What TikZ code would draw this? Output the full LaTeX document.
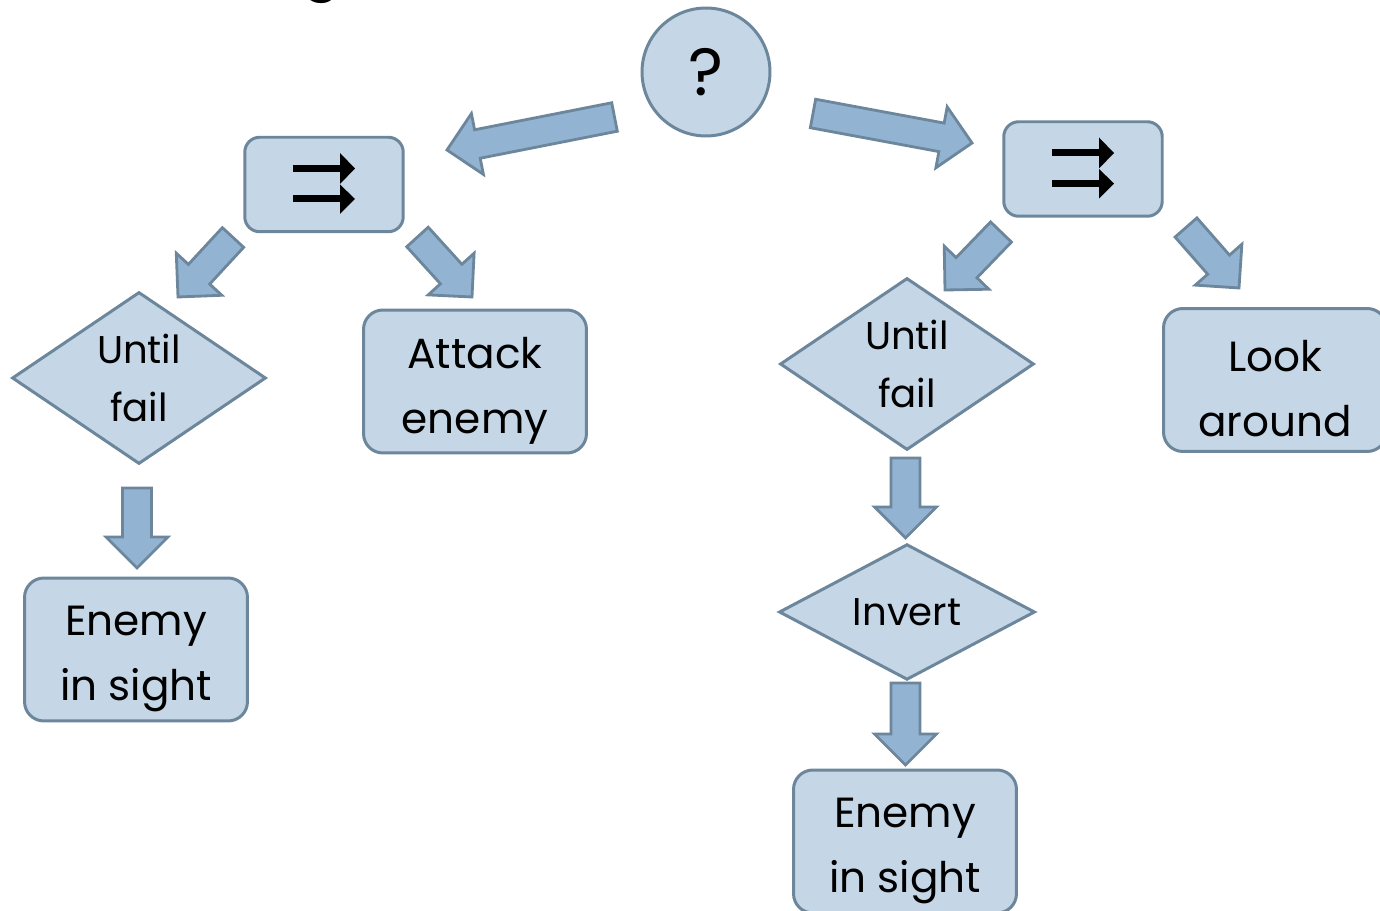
\documentclass[tikz,border=0pt]{standalone}
\usepackage{fontspec}
\setmainfont{Poppins}
\usetikzlibrary{shapes.geometric,calc}

\definecolor{nodefill}{HTML}{C5D6E6}
\definecolor{arrowfill}{HTML}{93B3D2}
\definecolor{edgeline}{HTML}{6C869C}

\tikzset{
  base/.style={draw=edgeline, fill=nodefill, line width=1.7pt},
  leafbox/.style={base, rounded corners=11pt, align=center, inner sep=0pt,
    minimum width=4.46cm, minimum height=2.86cm,
    font=\fontsize{24}{37}\selectfont},
  seqbox/.style={base, rounded corners=8.5pt, inner sep=0pt,
    minimum width=3.17cm, minimum height=1.89cm},
  selector/.style={base, circle, inner sep=0pt, minimum size=2.56cm,
    font=\fontsize{38}{38}\selectfont},
  decorator/.style={base, diamond, align=center, inner sep=0pt,
    font=\fontsize{22}{33}\selectfont},
  blockarrow/.style={draw=edgeline, fill=arrowfill, line width=1.6pt, line join=miter},
}

% two lines of leaf text, with a taller first line so the pair sits a little low
\newcommand\twolines[2]{\rule{0pt}{28pt}#1\\#2}

% block arrow from a tail point to a tip point
\newcommand\blockarr[2]{%
  \coordinate (ahead) at ($(#2)!0.62cm!(#1)$);
  \draw[blockarrow]
    ($(#1)!0.29cm!90:(#2)$) -- ($(ahead)!0.29cm!90:(#2)$) --
    ($(ahead)!0.62cm!90:(#2)$) -- (#2) --
    ($(ahead)!0.62cm!-90:(#2)$) -- ($(ahead)!0.29cm!-90:(#2)$) --
    ($(#1)!0.29cm!-90:(#2)$) -- cycle;}

% the double arrow glyph of a sequence node
\newcommand\seqglyph[1]{%
  \fill ([shift={(-31,-19.5)}]#1.center) rectangle ([shift={(17,-12.5)}]#1.center);
  \fill ([shift={(16,-31.5)}]#1.center) -- ([shift={(31,-16)}]#1.center)
        -- ([shift={(16,-0.5)}]#1.center) -- cycle;
  \fill ([shift={(-31,11)}]#1.center) rectangle ([shift={(17,18)}]#1.center);
  \fill ([shift={(16,0)}]#1.center) -- ([shift={(31,14.5)}]#1.center)
        -- ([shift={(16,29.5)}]#1.center) -- cycle;}

\begin{document}
\begin{tikzpicture}[x=0.02cm, y=-0.02cm]
  \useasboundingbox (0,0) rectangle (1380,911);
  \clip (0,0) rectangle (1380,911);

  % heading line above the tree (only its lowest stroke is inside the frame)
  \node[anchor=base, font=\fontsize{34}{34}\selectfont, inner sep=0pt] (heading) at (322,-12) {g};

  % nodes
  \node[selector] (root) at (706,72) {?};
  \node[seqbox] (seqL) at (324,184.5) {};
  \node[seqbox] (seqR) at (1083,169) {};
  \seqglyph{seqL}
  \seqglyph{seqR}

  \node[decorator, minimum width=5.08cm, minimum height=3.44cm] (untilL) at (139,378) {Until\\fail};
  \node[leafbox] (attack) at (475,381.5) {\twolines{Attack}{enemy}};
  \node[leafbox] (sightL) at (136,649.5) {\twolines{Enemy}{in sight}};

  \node[decorator, minimum width=5.08cm, minimum height=3.44cm] (untilR) at (907,364) {Until\\fail};
  \node[leafbox] (look) at (1275,380) {\twolines{Look}{around}};
  \node[decorator, minimum width=5.12cm, minimum height=2.52cm] (invert) at (907,612) {Invert};
  \node[leafbox] (sightR) at (905,841.5) {\twolines{Enemy}{in sight}};

  % connector ends
  \coordinate (a1s) at (614.5,117);  \coordinate (a1e) at (447,150);
  \coordinate (a2s) at (813,113.5);  \coordinate (a2e) at (972,143);
  \coordinate (a3s) at (233,237.5);  \coordinate (a3e) at (178,297);
  \coordinate (a4s) at (417.5,237);  \coordinate (a4e) at (472,297);
  \coordinate (a5s) at (1001,232);   \coordinate (a5e) at (945,290);
  \coordinate (a6s) at (1186,227.5); \coordinate (a6e) at (1239,288);
  \coordinate (a7s) at (137,488);    \coordinate (a7e) at (137,568);
  \coordinate (a8s) at (905.5,458);  \coordinate (a8e) at (905.5,538);
  \coordinate (a9s) at (905.5,683);  \coordinate (a9e) at (905.5,765);

  % connectors
  \blockarr{a1s}{a1e}
  \blockarr{a2s}{a2e}
  \blockarr{a3s}{a3e}
  \blockarr{a4s}{a4e}
  \blockarr{a5s}{a5e}
  \blockarr{a6s}{a6e}
  \blockarr{a7s}{a7e}
  \blockarr{a8s}{a8e}
  \blockarr{a9s}{a9e}
\end{tikzpicture}
\end{document}
